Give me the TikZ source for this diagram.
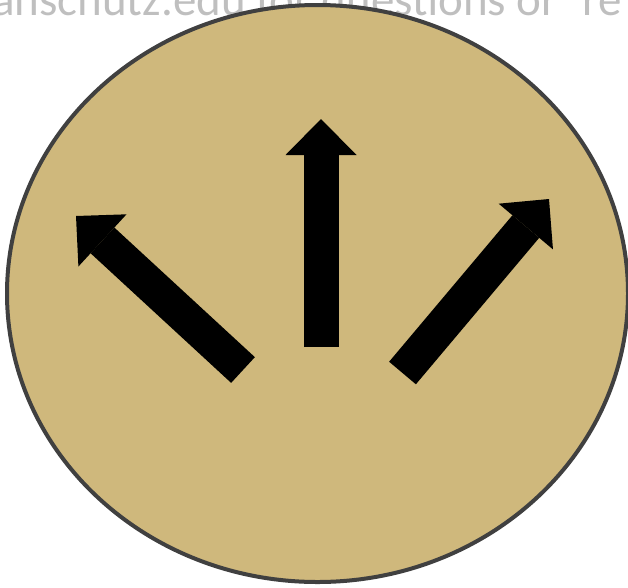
\documentclass[tikz,border=0pt]{standalone}
\usepackage{fontspec}
\setmainfont{Carlito}
\usepackage{xcolor}
\usetikzlibrary{arrows.meta,shapes.geometric}
\definecolor{cugold}{RGB}{207,184,124}
\definecolor{rimgray}{RGB}{64,64,64}
\definecolor{notegray}{RGB}{191,191,191}

\tikzset{
  blockarrow/.style={line width=35pt, line cap=butt,
    -{Triangle[length=36pt,width=71pt,line width=0pt]}}
}

\begin{document}
\begin{tikzpicture}[x=1pt,y=-1pt]
  \useasboundingbox (0,0) rectangle (628,587);
  \clip (0,0) rectangle (628,587);
  % note text behind the disc
  \node[anchor=base west, inner sep=0pt, text=notegray,
    font=\fontsize{47}{56}\selectfont] (note) at (-8,15)
    {anschutz.edu for questions or\hspace{14pt} re};
  % disc
  \node[ellipse, fill=cugold, draw=rimgray, line width=4pt,
    minimum width=621pt, minimum height=577pt, inner sep=0pt] (disc) at (317.5,293.5) {};
  % arrows
  \coordinate (ltail) at (243,370);
  \coordinate (ltip) at (76,216);
  \coordinate (mtail) at (321,347);
  \coordinate (mtip) at (321,119);
  \coordinate (rtail) at (402.5,373);
  \coordinate (rtip) at (549,199);
  \draw[blockarrow] (ltail) -- (ltip);
  \draw[blockarrow] (mtail) -- (mtip);
  \draw[blockarrow] (rtail) -- (rtip);
\end{tikzpicture}
\end{document}
